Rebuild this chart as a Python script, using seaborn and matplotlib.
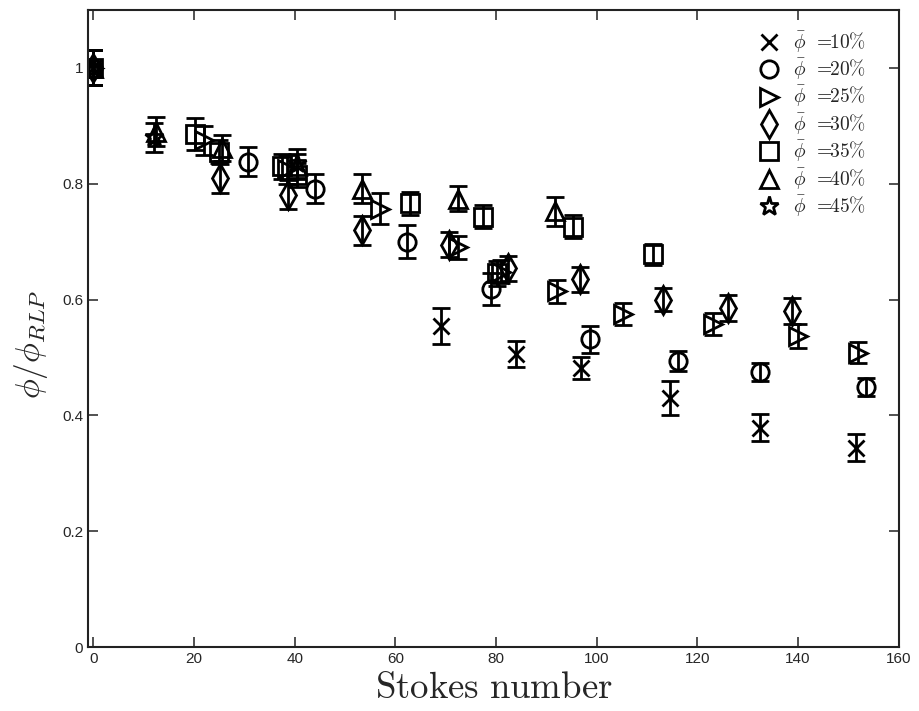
import matplotlib
matplotlib.use("Agg")
import matplotlib.pyplot as plt
import seaborn as sns
import numpy as np

sns.set_style("ticks")
plt.rcParams['font.family'] = ['Liberation Sans', 'DejaVu Sans']
plt.rcParams['mathtext.fontset'] = 'cm'

labels = [r'$\bar{\phi}\ \,=\!\!10\%$', r'$\bar{\phi}\ \,=\!\!20\%$', r'$\bar{\phi}\ \,=\!\!25\%$',
          r'$\bar{\phi}\ \,=\!\!30\%$', r'$\bar{\phi}\ \,=\!\!35\%$', r'$\bar{\phi}\ \,=\!\!40\%$',
          r'$\bar{\phi}\ \,=\!\!45\%$']
markers = ['x', 'o', '>', 'd', 's', '^', '*']

st10 = [0, 69.1, 84.0, 96.9, 114.5, 132.4, 151.6]
ph10 = [1.0, 0.554, 0.506, 0.482, 0.430, 0.379, 0.344]
er10 = [0.03, 0.031, 0.022, 0.019, 0.029, 0.023, 0.023]

st20 = [0, 30.8, 44.1, 62.3, 79.0, 98.7, 116.1, 132.4, 153.4]
ph20 = [1.0, 0.838, 0.791, 0.700, 0.618, 0.531, 0.494, 0.475, 0.449]
er20 = [0.03, 0.025, 0.025, 0.028, 0.028, 0.024, 0.017, 0.015, 0.015]

st25 = [0, 22.0, 38.5, 57.0, 72.5, 81.0, 92.1, 105.2, 123.1, 140.0, 151.9]
ph25 = [1.0, 0.875, 0.825, 0.757, 0.690, 0.648, 0.614, 0.575, 0.557, 0.537, 0.508]
er25 = [0.03, 0.025, 0.025, 0.027, 0.02, 0.02, 0.02, 0.019, 0.019, 0.02, 0.018]

st30 = [0, 25.2, 38.7, 53.4, 70.7, 82.4, 96.7, 113.1, 126.1, 138.7]
ph30 = [1.0, 0.809, 0.781, 0.720, 0.695, 0.654, 0.635, 0.600, 0.585, 0.580]
er30 = [0.03, 0.025, 0.025, 0.025, 0.022, 0.022, 0.022, 0.02, 0.022, 0.022]

st35 = [0, 20.2, 25.0, 37.5, 40.5, 62.9, 77.4, 80.2, 95.3, 111.2]
ph35 = [1.0, 0.886, 0.855, 0.830, 0.815, 0.766, 0.743, 0.645, 0.726, 0.678]
er35 = [0.03, 0.028, 0.02, 0.022, 0.02, 0.02, 0.02, 0.022, 0.02, 0.018]

st40 = [0, 12.5, 25.5, 40.5, 53.4, 72.5, 91.7]
ph40 = [1.0, 0.890, 0.862, 0.830, 0.791, 0.774, 0.752]
er40 = [0.03, 0.025, 0.022, 0.022, 0.025, 0.022, 0.025]

st45 = [0, 12.0, 40.5]
ph45 = [1.0, 0.880, 0.835]
er45 = [0.03, 0.025, 0.025]

series = [(st10, ph10, er10), (st20, ph20, er20), (st25, ph25, er25),
          (st30, ph30, er30), (st35, ph35, er35), (st40, ph40, er40),
          (st45, ph45, er45)]

fig = plt.figure(figsize=(9.19, 7.11), dpi=100)
ax = fig.add_axes([0.096, 0.09, 0.882, 0.896])

handles = []
for (xs, ys, es), m, lab in zip(series, markers, labels):
    ms = 14 if m in ('*', 'd') else 12.5
    if m == 'x':
        ms = 11.5
    ax.errorbar(xs, ys, yerr=es, fmt=m, color='black', mfc='none', mec='black',
                mew=2.0, ms=ms, elinewidth=2.0, capsize=6.5, capthick=2.0, label=lab)
    handles.append(ax.plot([], [], ls='none', marker=m, color='black', mfc='none',
                           mew=2.0, ms=ms)[0])

ax.set_xlim(-1, 160)
ax.set_ylim(0, 1.1)
ax.set_xticks(np.arange(0, 161, 20))
ax.set_yticks([0, 0.2, 0.4, 0.6, 0.8, 1.0])
ax.set_yticklabels(['0', '0.2', '0.4', '0.6', '0.8', '1'])
ax.tick_params(direction='in', top=True, right=True, length=7, width=1.2,
               labelsize=11, color='#333333')
for sp in ax.spines.values():
    sp.set_linewidth(1.5)
    sp.set_color('#222222')

ax.set_xlabel(r'$\mathrm{Stokes\ number}$', fontsize=26.5, labelpad=4)
ax.set_ylabel(r'$\phi/\phi_{RLP}$', fontsize=24)
ax.yaxis.set_label_coords(-0.047, 0.475)

ax.legend(handles, labels, loc='upper right', frameon=False, fontsize=14,
          handlelength=1.0, handletextpad=0.7, labelspacing=0.12,
          borderaxespad=0.6, bbox_to_anchor=(0.983, 1.0))

fig.savefig('out.png', dpi=100)
